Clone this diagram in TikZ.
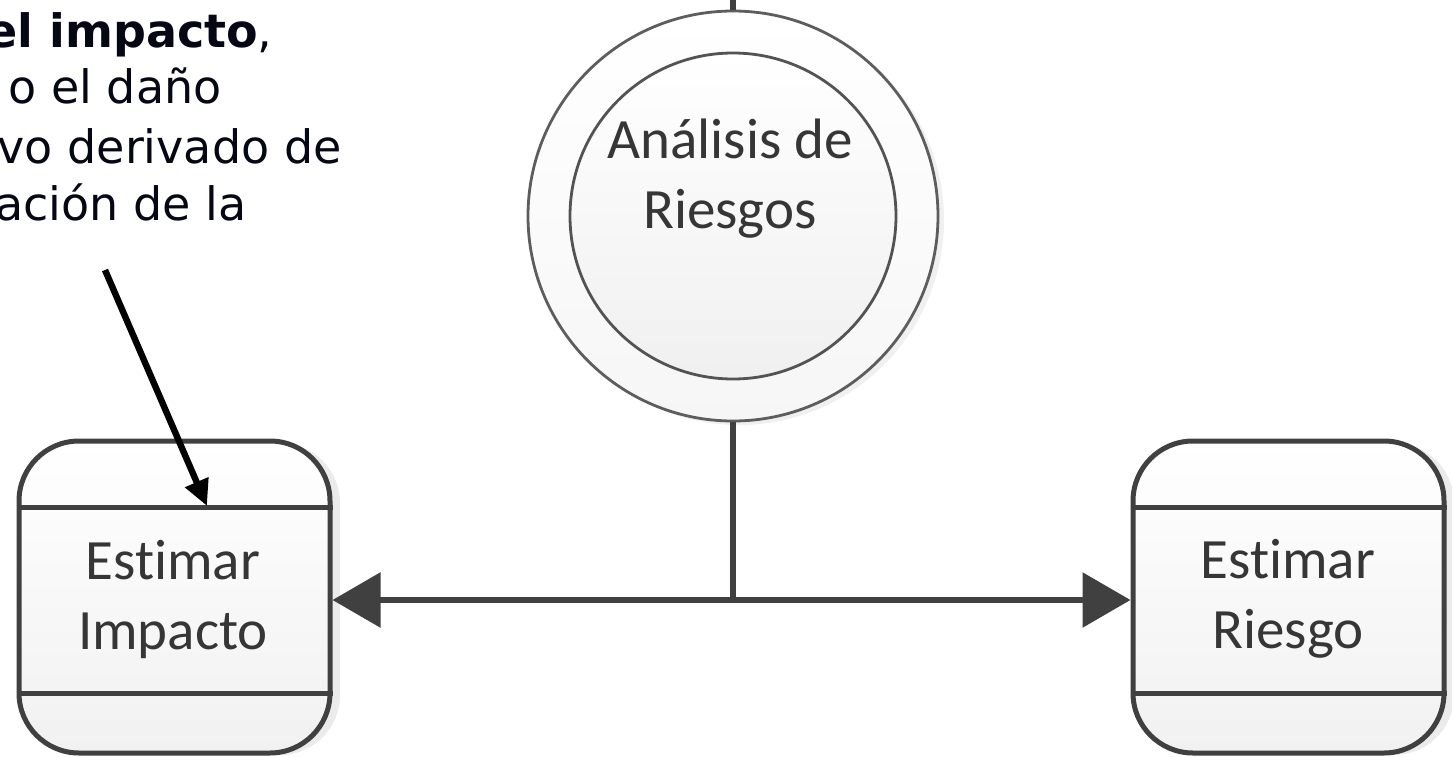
\documentclass[tikz,border=0pt]{standalone}
\usepackage{fontspec}
\setmainfont{Carlito}[Ligatures=NoCommon]
\newfontfamily\dejavu{DejaVu Sans}
\usetikzlibrary{arrows.meta,shadows}
\definecolor{ln}{HTML}{404040}
\definecolor{tx}{HTML}{363636}
\definecolor{ann}{HTML}{050814}
\begin{document}
\begin{tikzpicture}[x=0.5pt,y=-0.5pt,
  procbox/.style={draw=ln, line width=2.5pt, rounded corners=30pt,
    minimum width=155.5pt, minimum height=156pt, inner sep=0pt,
    top color=white, bottom color=gray!11,
    drop shadow={shadow xshift=5pt, shadow yshift=-1pt, fill=gray!35, opacity=0.45}},
  bandline/.style={ln, line width=2.5pt},
  boxtext/.style={font=\fontsize{28.5}{35}\selectfont, text=tx, align=center},
  outerc/.style={circle, draw=ln!85, line width=1.4pt, minimum size=205pt, inner sep=0pt,
    top color=white, bottom color=gray!7,
    drop shadow={shadow xshift=3pt, shadow yshift=-2pt, fill=gray!30, opacity=0.4}},
  innerc/.style={circle, draw=ln!90, line width=1.4pt, minimum size=163pt, inner sep=0pt,
    top color=white, bottom color=gray!12},
  conn/.style={ln, line width=3pt},
  tip/.style={-{Triangle[length=24pt,width=27pt]}},
  anntext/.style={font=\dejavu\fontsize{23}{28}\selectfont, text=ann, anchor=base east, inner sep=0pt},
  annarrow/.style={black, line width=3.2pt, -{Triangle[length=13pt,width=12pt]}}
]
\useasboundingbox (0,0) rectangle (1452,756);

% process boxes
\node[procbox] (imp) at (174.5,597) {};
\node[procbox] (rie) at (1288.5,597) {};
\draw[bandline] (imp.west |- 0,507) -- (imp.east |- 0,507);
\draw[bandline] (imp.west |- 0,693) -- (imp.east |- 0,693);
\draw[bandline] (rie.west |- 0,507) -- (rie.east |- 0,507);
\draw[bandline] (rie.west |- 0,693) -- (rie.east |- 0,693);
\node[boxtext] (impt) at (173,599) {Estimar\\Impacto};
\node[boxtext] (riet) at (1288,599) {Estimar\\Riesgo};

% central circle
\node[outerc] (out) at (733,216) {};
\node[innerc] (inn) at (733,216) {};
\node[boxtext] (anl) at (730,179) {Análisis de\\Riesgos};

% connectors
\coordinate (topc) at (733,0);
\coordinate (j) at (733,600);
\draw[conn] (topc) -- (out.north);
\draw[conn] (out.south) -- (j);
\draw[conn,tip] (j) -- (j -| imp.east);
\draw[conn,tip] (j) -- (j -| rie.west);

% annotation
\node[anntext] (a1) at (273,47) {{\bfseries el impacto},};
\node[anntext] (a2) at (222,103) {o el daño};
\node[anntext] (a3) at (342,163) {vo derivado de};
\node[anntext] (a4) at (247,220) {ación de la};
\coordinate (as) at (105,270);
\coordinate (ae) at (207,506);
\draw[annarrow] (as) -- (ae);
\end{tikzpicture}
\end{document}
